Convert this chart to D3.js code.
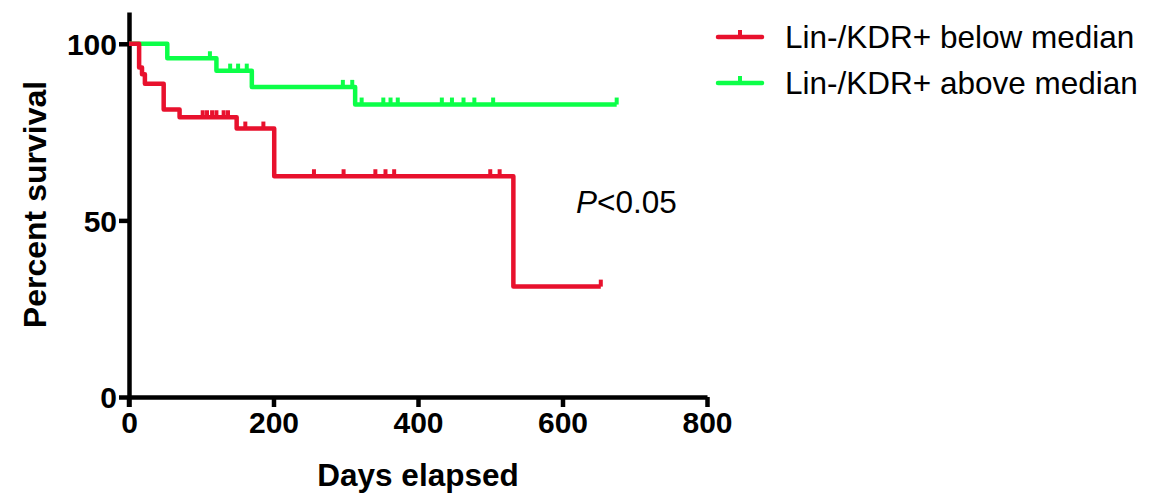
<!DOCTYPE html>
<html>
<head>
<meta charset="utf-8">
<script src="https://cdn.jsdelivr.net/npm/d3@7"></script>
<style>
  html, body { margin: 0; padding: 0; background: #fff; }
  svg { display: block; }
</style>
</head>
<body>
<svg id="chart" width="1168" height="494"></svg>
<script>
// Kaplan-Meier survival, Lin-/KDR+ below vs above median
const xTicks = [0, 200, 400, 600, 800];
const yTicks = [0, 50, 100];

const seriesNames = ["Lin-/KDR+ below median", "Lin-/KDR+ above median"];
const seriesColors = ["#e8112d", "#0cff48"];

// below median: event times (days) and survival (%) after each step
const belowTimes = [0, 14, 18, 22, 48, 70, 149, 201, 532];
const belowSurvival = [100, 93.3, 91.4, 88.7, 81.4, 79.2, 76.0, 62.5, 31.25];
const belowLastDay = 653;
const belowCensored = [102, 108, 115, 121, 131, 137, 161, 186, 256, 297, 341, 355, 367, 500, 513, 653];

// above median
const aboveTimes = [0, 53, 121, 170, 313];
const aboveSurvival = [100, 95.9, 92.4, 87.8, 82.8];
const aboveLastDay = 675;
const aboveCensored = [112, 140, 151, 163, 296, 309, 322, 352, 362, 372, 433, 447, 463, 478, 504, 675];

const svg = d3.select("#chart");
const FONT = "'Liberation Sans', Arial, sans-serif";

const x = d3.scaleLinear().domain([0, 800]).range([129, 707]);
const y = d3.scaleLinear().domain([0, 109]).range([397, 12]);

// axes
const xAxis = d3.axisBottom(x).tickValues(xTicks).tickSize(10).tickSizeOuter(0).tickPadding(4);
const yAxis = d3.axisLeft(y).tickValues(yTicks).tickSize(10).tickSizeOuter(0).tickPadding(2);

const gx = svg.append("g").attr("transform", `translate(0,${y(0)})`).call(xAxis);
const gy = svg.append("g").attr("transform", `translate(${x(0)},0)`).call(yAxis);

[gx, gy].forEach(g => {
  g.selectAll("path.domain").attr("stroke", "#000").attr("stroke-width", 4.5);
  g.selectAll(".tick line").attr("stroke", "#000").attr("stroke-width", 4.5);
  g.selectAll(".tick text")
    .attr("fill", "#000")
    .style("font-family", FONT)
    .style("font-weight", "bold")
    .style("font-size", "30px");
});
// y axis line continues down through the x-axis tick at 0
gy.append("line")
  .attr("x1", 0).attr("x2", 0)
  .attr("y1", y(0)).attr("y2", y(0) + 10)
  .attr("stroke", "#000").attr("stroke-width", 4.5);
gx.selectAll(".tick text").attr("dy", "0.74em");
gy.selectAll(".tick text").attr("dy", "0.36em");

// axis titles
svg.append("text")
  .attr("x", (x(0) + x(800)) / 2)
  .attr("y", 486)
  .attr("text-anchor", "middle")
  .style("font-family", FONT).style("font-weight", "bold").style("font-size", "31.5px")
  .text("Days elapsed");

svg.append("text")
  .attr("transform", `translate(46,${(y(0) + y(109)) / 2}) rotate(-90)`)
  .attr("text-anchor", "middle")
  .style("font-family", FONT).style("font-weight", "bold").style("font-size", "32px")
  .text("Percent survival");

// step curves
function stepPoints(times, surv, lastDay) {
  const pts = [];
  for (let i = 0; i < times.length; i++) {
    if (i > 0) pts.push([times[i], surv[i - 1]]);
    pts.push([times[i], surv[i]]);
  }
  pts.push([lastDay, surv[surv.length - 1]]);
  return pts;
}
function survivalAt(times, surv, t) {
  let v = surv[0];
  for (let i = 0; i < times.length; i++) if (times[i] <= t) v = surv[i];
  return v;
}

const line = d3.line().x(d => x(d[0])).y(d => y(d[1]));

const groups = [
  { times: belowTimes, surv: belowSurvival, last: belowLastDay, cens: belowCensored, color: seriesColors[0] },
  { times: aboveTimes, surv: aboveSurvival, last: aboveLastDay, cens: aboveCensored, color: seriesColors[1] }
];

// draw above-median first so the below-median curve sits on top at the start
[groups[1], groups[0]].forEach(gr => {
  const g = svg.append("g");
  g.append("path")
    .attr("d", line(stepPoints(gr.times, gr.surv, gr.last)))
    .attr("fill", "none")
    .attr("stroke", gr.color)
    .attr("stroke-width", 4.5)
    .attr("stroke-linejoin", "round");
  g.selectAll("line.cens")
    .data(gr.cens)
    .join("line")
    .attr("class", "cens")
    .attr("x1", d => x(d)).attr("x2", d => x(d))
    .attr("y1", d => y(survivalAt(gr.times, gr.surv, d)))
    .attr("y2", d => y(survivalAt(gr.times, gr.surv, d)) - 7)
    .attr("stroke", gr.color)
    .attr("stroke-width", 4);
});

// legend
const legend = svg.append("g");
seriesNames.forEach((name, i) => {
  const ly = 37 + i * 46;
  legend.append("line")
    .attr("x1", 718).attr("x2", 762).attr("y1", ly).attr("y2", ly)
    .attr("stroke", seriesColors[i]).attr("stroke-width", 4.5).attr("stroke-linecap", "round");
  legend.append("line")
    .attr("x1", 740).attr("x2", 740).attr("y1", ly).attr("y2", ly - 7)
    .attr("stroke", seriesColors[i]).attr("stroke-width", 4);
  legend.append("text")
    .attr("x", 785).attr("y", ly + 10.5)
    .style("font-family", FONT).style("font-size", "31.5px")
    .attr("fill", "#000")
    .text(name);
});

// p-value annotation
const pText = svg.append("text")
  .attr("x", 576).attr("y", 213)
  .style("font-family", FONT).style("font-size", "31.5px")
  .attr("fill", "#000");
pText.append("tspan").style("font-style", "italic").text("P");
pText.append("tspan").text("<0.05");
</script>
</body>
</html>
